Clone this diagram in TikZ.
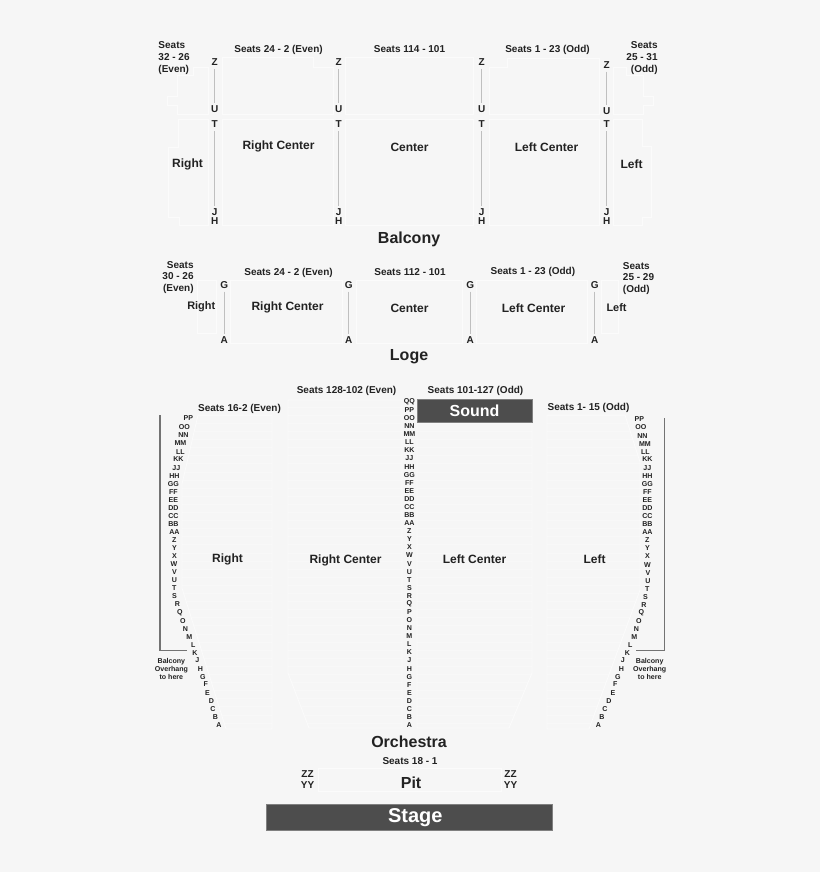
\documentclass[tikz,border=0pt]{standalone}
\usepackage{fontspec}
\setmainfont{Liberation Sans}
\usepackage{xcolor}
\usetikzlibrary{positioning,calc}
\definecolor{pagebg}{HTML}{F6F6F6}
\definecolor{inkc}{HTML}{222222}
\definecolor{darkbox}{HTML}{4D4D4D}
\definecolor{rowc}{HTML}{F8F8F8}
\definecolor{edgec}{HTML}{FBFBFB}
\tikzset{
    seatlab/.style={font=\bfseries\fontsize{7.5}{8.7}\selectfont, text=inkc, inner sep=0pt, xshift=0.4pt, yshift=-0.4pt},
    zonelab/.style={font=\bfseries\fontsize{9}{10}\selectfont, text=inkc, inner sep=0pt, xshift=0.4pt, yshift=-0.5pt},
    sidelab/.style={font=\bfseries\fontsize{8.2}{10}\selectfont, text=inkc, inner sep=0pt, xshift=0.4pt, yshift=-0.5pt},
    titlelab/.style={font=\bfseries\fontsize{12}{13}\selectfont, text=inkc, inner sep=0pt, xshift=0.8pt, yshift=-0.6pt},
    rowlab/.style={font=\bfseries\fontsize{7.5}{8}\selectfont, text=inkc, inner sep=2.2pt, xshift=0.5pt, yshift=-0.3pt},
    tinylab/.style={font=\bfseries\fontsize{5.3}{6}\selectfont, text=inkc, inner sep=0pt, xshift=0.3pt, yshift=-0.2pt},
    aisle/.style={draw=black!25, line width=0.9pt},
    overhang/.style={draw=black!55, line width=0.9pt},
    outline/.style={draw=edgec, line width=0.6pt},
    darkboxst/.style={fill=darkbox, draw=black!50, line width=0.5pt, text=white, font=\bfseries\selectfont, inner sep=0pt}
}
% one block of seats: faint rows clipped to the outline, then the outline
\newcommand{\seatblock}[1]{%
    \begin{scope}
        \clip #1;
        \foreach \r in {0,...,42} \draw[rowc, line width=0.5pt] (150,{\r*8.1+399}) -- (670,{\r*8.1+399});
    \end{scope}
    \draw[outline] #1;
}
\begin{document}
\begin{tikzpicture}[x=0.75pt, y=-0.75pt]
    \fill[pagebg] (0,0) rectangle (820,872);
    \useasboundingbox (0,0) rectangle (820,872);

    % Balcony outlines
    \foreach \p in {
        {(208,67) -- (193,67) -- (193,75) -- (177,75) -- (177,96) -- (167,96) -- (167,105) -- (177,105) -- (177,114) -- (208,114) -- cycle},
        {(208,119) -- (178,119) -- (178,147) -- (168,147) -- (168,217) -- (179,217) -- (179,225) -- (208,225) -- cycle},
        {(222,57) -- (313,57) -- (313,67) -- (333,67) -- (333,114) -- (222,114) -- cycle},
        {(222,119) rectangle (333,225)},
        {(345,57) rectangle (473,114)},
        {(345,119) rectangle (473,225)},
        {(507,58) -- (599,58) -- (599,114) -- (489,114) -- (489,67) -- (507,67) -- cycle},
        {(489,119) rectangle (599,225)},
        {(613,67) -- (626,67) -- (626,75) -- (643,75) -- (643,96) -- (653,96) -- (653,105) -- (643,105) -- (643,114) -- (613,114) -- cycle},
        {(613,119) -- (642,119) -- (642,146) -- (651,146) -- (651,217) -- (642,217) -- (642,225) -- (613,225) -- cycle}
    } \draw[outline] \p;

    % Loge outlines
    \foreach \p in {
        {(197,280) -- (216,280) -- (216,333) -- (197,333) -- cycle},
        {(230,280) rectangle (342,343)},
        {(356,280) rectangle (462,343)},
        {(476,280) rectangle (587,343)},
        {(601,333) -- (618,333) -- (618,280) -- (601,280) -- cycle}
    } \draw[outline] \p;

    % Orchestra and pit outlines
    \seatblock{(198,415) -- (272,415) -- (272,729) -- (226,729) -- (182,588) -- (182,484) -- cycle}
    \seatblock{(288,400) -- (402,400) -- (402,728) -- (309,728) -- (288,673) -- cycle}
    \seatblock{(417,423) -- (532,423) -- (532,673) -- (509,728) -- (417,728) -- cycle}
    \seatblock{(547,415) -- (625,415) -- (640,462) -- (640,590) -- (589,729) -- (547,729) -- cycle}
    \draw[outline] (318,768) rectangle (501,791);

    % Boxes
    \node[darkboxst, minimum width=86.25pt, minimum height=17.25pt, font=\bfseries\fontsize{12}{13}\selectfont] (sound) at (474.5,411) {Sound};
    \node[darkboxst, minimum width=214.5pt, minimum height=19.5pt, font=\bfseries\fontsize{15}{16}\selectfont, text depth=3pt, text height=11pt] (stage) at (409.3,817) {\hspace*{9pt}Stage};

    % Balcony rows
    \foreach \n/\x/\zy/\uy in {a/214/62/109, b/338/62/109, c/481/62/109, d/606/64.5/111} {
        \node[rowlab] (z\n) at (\x,\zy) {Z};
        \node[rowlab] (u\n) at (\x,\uy) {U};
        \node[rowlab] (t\n) at (\x,124) {T};
        \node[rowlab] (j\n) at (\x,212) {J};
        \node[rowlab] (h\n) at (\x,221) {H};
        \draw[aisle] (z\n) -- (u\n);
        \draw[aisle] (t\n) -- (j\n);
    }

    % Balcony labels
    \node[seatlab, align=left] (balsl) at (173.5,57.5) {Seats\\32 - 26\\(Even)};
    \node[seatlab] (bals1) at (278,49.5) {Seats 24 - 2 (Even)};
    \node[seatlab] (bals2) at (409,49) {Seats 114 - 101};
    \node[seatlab] (bals3) at (547,49) {Seats 1 - 23 (Odd)};
    \node[seatlab, align=right] (balsr) at (641.5,57.5) {Seats\\25 - 31\\(Odd)};
    \node[zonelab] (balr) at (187,164) {Right};
    \node[zonelab] (balrc) at (278,146) {Right Center};
    \node[zonelab] (balc) at (409,147) {Center};
    \node[zonelab] (ballc) at (546,147) {Left Center};
    \node[zonelab] (ball) at (631,164) {Left};
    \node[titlelab] (balcony) at (408,239) {Balcony};

    % Loge rows
    \foreach \n/\x in {a/223.6, b/348, c/469.6, d/594} {
        \node[rowlab] (lg\n) at (\x,284.5) {G};
        \node[rowlab] (la\n) at (\x,340) {A};
        \draw[aisle] (lg\n) -- (la\n);
    }

    % Loge labels
    \node[seatlab, align=right] (logsl) at (177.5,277) {Seats\\30 - 26\\(Even)};
    \node[seatlab] (logs1) at (288,272) {Seats 24 - 2 (Even)};
    \node[seatlab] (logs2) at (409.5,271.5) {Seats 112 - 101};
    \node[seatlab] (logs3) at (532.4,271.5) {Seats 1 - 23 (Odd)};
    \node[seatlab, align=left] (logsr) at (638,278) {Seats\\25 - 29\\(Odd)};
    \node[sidelab] (logr) at (200.7,305.7) {Right};
    \node[zonelab] (logrc) at (287,306.5) {Right Center};
    \node[zonelab] (logc) at (409,307.5) {Center};
    \node[zonelab] (loglc) at (533,307.5) {Left Center};
    \node[sidelab] (logl) at (616,307) {Left};
    \node[titlelab] (loge) at (408,356) {Loge};

    % Orchestra labels
    \node[seatlab] (orcs1) at (239,408) {Seats 16-2 (Even)};
    \node[seatlab] (orcs2) at (346,390.5) {Seats 128-102 (Even)};
    \node[seatlab] (orcs3) at (475,390.5) {Seats 101-127 (Odd)};
    \node[seatlab] (orcs4) at (588,407) {Seats 1- 15 (Odd)};
    \node[zonelab] (orcr) at (227,559) {Right};
    \node[zonelab] (orcrc) at (345,560) {Right Center};
    \node[zonelab] (orclc) at (474,559) {Left Center};
    \node[zonelab] (orcl) at (594,559) {Left};
    \node[titlelab] (orchestra) at (408,741) {Orchestra};

    % Orchestra rows: centre aisle
    \foreach \t [count=\i from 0] in {QQ,PP,OO,NN,MM,LL,KK,JJ,HH,GG,FF,EE,DD,CC,BB,AA,Z,Y,X,W,V,U,T,S,R,Q,P,O,N,M,L,K,J,H,G,F,E,D,C,B,A}
        \node[tinylab] (mid\i) at (409,{401.7+\i*8.08}) {\t};

    % Orchestra rows: right side of the house
    \foreach \x/\y/\t [count=\i] in {188/418/PP, 184/427/OO, 183/435/NN, 180/443/MM, 180/452/LL, 178/459/KK, 176/468/JJ, 174/476/HH,
        173/484/GG, 173/492/FF, 173/500/EE, 173/508/DD, 173/516/CC, 173/524/BB, 174/532/AA, 174/540/Z, 174/548/Y, 174/556/X,
        173.5/564/W, 174/572/V, 174/580/U, 174/588/T, 174/596/S, 177/604/R, 179.5/612/Q, 182.5/620.5/O, 185/628.5/N, 189/637/M,
        193/645/L, 194.5/653/K, 197/660/J, 200/668.5/H, 202.5/676.5/G, 205.5/684/F, 207/692.5/E, 211/700.5/D, 212.5/708.5/C,
        215/716.5/B, 218.5/725/A}
        \node[tinylab] (rgt\i) at (\x,\y) {\t};

    % Orchestra rows: left side of the house
    \foreach \x/\y/\t [count=\i] in {639/419/PP, 640.5/427/OO, 642/435.5/NN, 644.5/443.5/MM, 645/451.5/LL, 647/459/KK, 647/467.5/JJ, 647/475.5/HH,
        647/483.5/GG, 647/491.5/FF, 647/500/EE, 647/508/DD, 647/516/CC, 647/524/BB, 647/532/AA, 647/540/Z, 647/548/Y, 647/556/X,
        647/564.5/W, 647.5/572.5/V, 647.5/580.5/U, 647/588.5/T, 645/597/S, 643.5/605/R, 641/612.5/Q, 638.5/620.5/O, 636/628.5/N, 634/637/M,
        630/645/L, 627/653/K, 622.5/660/J, 621/668.5/H, 617.5/676.5/G, 615/684/F, 612.5/692.5/E, 608.5/700.5/D, 604.5/708.5/C,
        601.5/716.5/B, 598/725/A}
        \node[tinylab] (lft\i) at (\x,\y) {\t};

    % Balcony overhang
    \coordinate (ohla) at (160,415);
    \coordinate (ohlb) at (160,650.7);
    \coordinate (ohlc) at (187,650.7);
    \coordinate (ohra) at (664.7,418);
    \coordinate (ohrb) at (664.7,650.7);
    \coordinate (ohrc) at (636,650.7);
    \draw[overhang] (ohla) -- (ohlb) -- (ohlc);
    \draw[overhang] (ohra) -- (ohrb) -- (ohrc);
    \node[tinylab, align=center] (ohlt) at (171,668.5) {Balcony\\Overhang\\to here};
    \node[tinylab, align=center] (ohrt) at (649.3,668.5) {Balcony\\Overhang\\to here};

    % Pit
    \node[seatlab] (pits) at (409.5,761) {Seats 18 - 1};
    \node[titlelab] (pit) at (410,782) {Pit};
    \node[seatlab, align=center] (pitl) at (307,779) {ZZ\\YY};
    \node[seatlab, align=center] (pitr) at (510,779) {ZZ\\YY};
\end{tikzpicture}
\end{document}
